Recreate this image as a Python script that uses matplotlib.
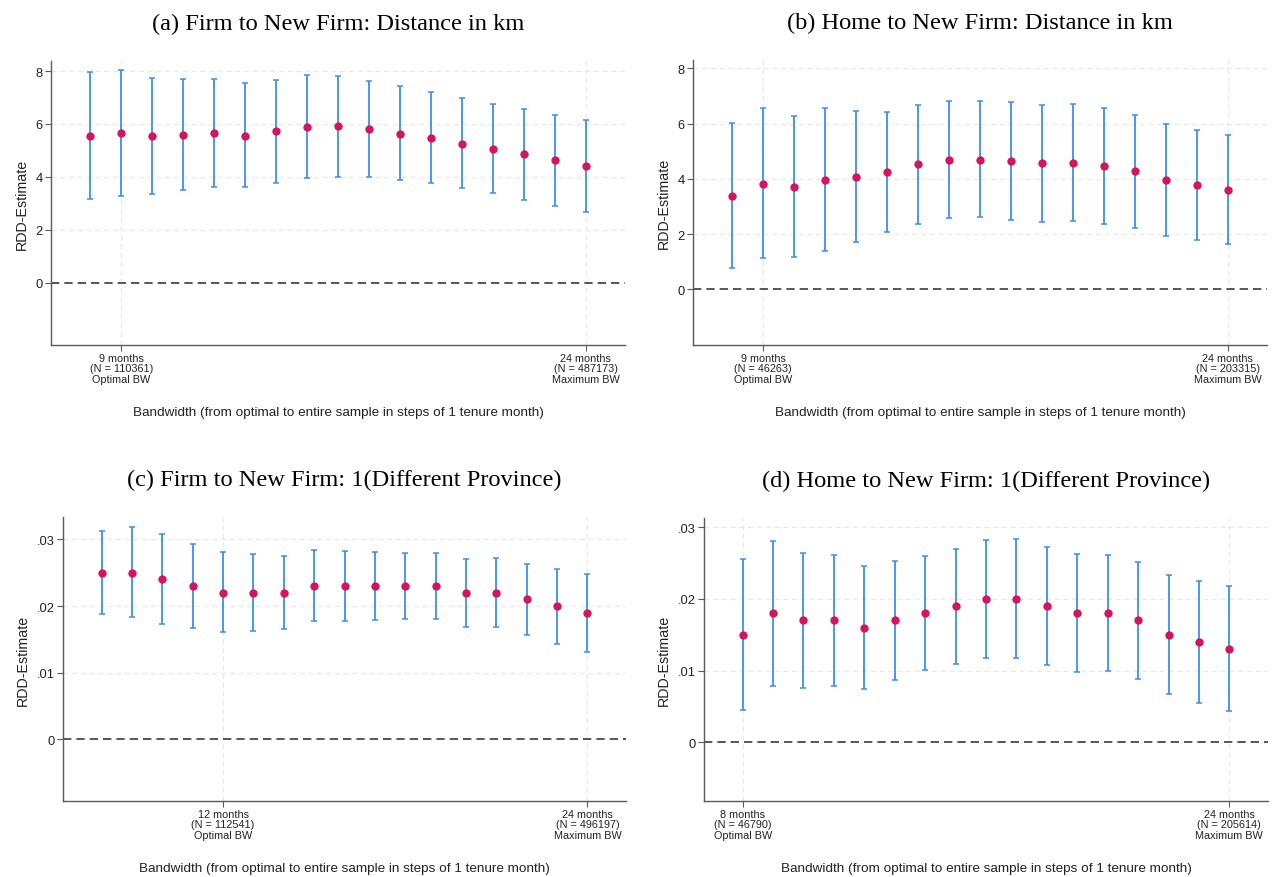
import matplotlib
matplotlib.use('Agg')
import matplotlib.pyplot as plt
import numpy as np
from matplotlib.ticker import FuncFormatter

plt.rcParams['font.family'] = 'Liberation Sans'

# --- data: bandwidth in tenure months ---
months = list(range(8, 25))

# (a) Firm to New Firm: distance in km
a_est = [5.55, 5.65, 5.55, 5.60, 5.65, 5.56, 5.73, 5.90, 5.91, 5.80, 5.63, 5.45, 5.26, 5.06, 4.85, 4.62, 4.40]
a_lo = [3.15, 3.26, 3.35, 3.49, 3.61, 3.62, 3.76, 3.97, 4.01, 3.98, 3.87, 3.75, 3.56, 3.37, 3.12, 2.91, 2.68]
a_hi = [7.96, 8.05, 7.75, 7.71, 7.70, 7.53, 7.68, 7.86, 7.80, 7.64, 7.42, 7.19, 6.97, 6.76, 6.55, 6.35, 6.13]

# (b) Home to New Firm: distance in km
b_est = [3.39, 3.83, 3.72, 3.96, 4.08, 4.24, 4.52, 4.69, 4.70, 4.64, 4.56, 4.58, 4.47, 4.27, 3.96, 3.77, 3.61]
b_lo = [0.79, 1.13, 1.18, 1.39, 1.72, 2.07, 2.36, 2.57, 2.61, 2.52, 2.44, 2.46, 2.38, 2.21, 1.95, 1.79, 1.66]
b_hi = [6.01, 6.56, 6.28, 6.55, 6.46, 6.42, 6.67, 6.81, 6.81, 6.78, 6.67, 6.72, 6.58, 6.30, 5.98, 5.76, 5.58]

# (c) Firm to New Firm: 1(Different Province)
c_est = [0.025, 0.025, 0.024, 0.023, 0.022, 0.022, 0.022, 0.023, 0.023, 0.023, 0.023, 0.023, 0.022, 0.022, 0.021, 0.020, 0.019]
c_lo = [0.01875, 0.0183, 0.0173, 0.01675, 0.01605, 0.0163, 0.01655, 0.0177, 0.01775, 0.01785, 0.0180, 0.01805, 0.0169, 0.0168, 0.01565, 0.01435, 0.01315]
c_hi = [0.03125, 0.0318, 0.0308, 0.0293, 0.02805, 0.0278, 0.02755, 0.02835, 0.0282, 0.0281, 0.0280, 0.02795, 0.02705, 0.02715, 0.02635, 0.0256, 0.02485]

# (d) Home to New Firm: 1(Different Province)
d_est = [0.015, 0.018, 0.017, 0.017, 0.016, 0.017, 0.018, 0.019, 0.020, 0.020, 0.019, 0.018, 0.018, 0.017, 0.015, 0.014, 0.013]
d_lo = [0.00449, 0.00792, 0.00755, 0.00792, 0.00741, 0.00875, 0.01005, 0.01093, 0.01181, 0.01176, 0.01079, 0.00981, 0.00991, 0.00889, 0.00676, 0.00551, 0.00431]
d_hi = [0.02556, 0.02815, 0.02648, 0.02611, 0.02458, 0.02523, 0.02597, 0.02704, 0.02829, 0.02833, 0.02731, 0.02625, 0.02616, 0.02514, 0.02333, 0.02255, 0.02176]

titles = ['(a) Firm to New Firm: Distance in km',
          '(b) Home to New Firm: Distance in km',
          '(c) Firm to New Firm: 1(Different Province)',
          '(d) Home to New Firm: 1(Different Province)']
tick_months = [[9, 24], [9, 24], [12, 24], [8, 24]]
tick_labels = [['9 months\n(N = 110361)\nOptimal BW', '24 months\n(N = 487173)\nMaximum BW'],
               ['9 months\n(N = 46263)\nOptimal BW', '24 months\n(N = 203315)\nMaximum BW'],
               ['12 months\n(N = 112541)\nOptimal BW', '24 months\n(N = 496197)\nMaximum BW'],
               ['8 months\n(N = 46790)\nOptimal BW', '24 months\n(N = 205614)\nMaximum BW']]
yticks = [[0, 2, 4, 6, 8], [0, 2, 4, 6, 8], [0, 0.01, 0.02, 0.03], [0, 0.01, 0.02, 0.03]]
ylims = [(-2.36, 8.38), (-2.01, 8.30), (-0.00924, 0.03336), (-0.0082, 0.0313)]
series = [(a_est, a_lo, a_hi), (b_est, b_lo, b_hi), (c_est, c_lo, c_hi), (d_est, d_lo, d_hi)]

W, H = 1273, 878
# axes boxes in pixels: left, top, right, bottom
boxes = [(51, 62, 625, 346), (693, 61, 1267, 346), (63, 518, 626, 802), (704, 519, 1268, 802)]

BLUE = '#3c8ef2'
RED = '#d7145a'
GRID = '#e9e9e9'
SPINE = '#5a5a5a'
TEXT = '#222222'


def small_fmt(v, p):
    if v == 0:
        return '0'
    if abs(v) < 1:
        return ('%.2f' % v).lstrip('0')
    return '%g' % v


fig = plt.figure(figsize=(W / 100, H / 100), dpi=100)

for i in range(4):
    l, t, r, b = boxes[i]
    ax = fig.add_axes([l / W, 1 - b / H, (r - l) / W, (b - t) / H])
    est, lo, hi = series[i]
    est = np.array(est)
    x = np.array(months)
    yerr = [est - np.array(lo), np.array(hi) - est]

    ax.axhline(0, color='#3a3a3a', lw=1.2, dashes=[5, 3], zorder=1)
    ax.errorbar(x, est, yerr=yerr, fmt='none', ecolor=BLUE, elinewidth=1.3,
                capsize=2.4, capthick=1.1, zorder=2)
    ax.plot(x, est, 'o', color=RED, ms=5.0, mec=RED, zorder=3)

    ax.set_xlim(8 - 1.27, 24 + 1.27)
    ax.set_ylim(*ylims[i])
    ax.set_yticks(yticks[i])
    ax.yaxis.set_major_formatter(FuncFormatter(small_fmt))
    ax.set_xticks(tick_months[i])
    ax.set_xticklabels(tick_labels[i], fontsize=7.8, linespacing=1.02, color=TEXT)

    # light dashed grid
    for yv in yticks[i][1:]:
        ax.axhline(yv, color=GRID, lw=0.9, dashes=[4, 3], zorder=0)
    for xv in tick_months[i]:
        ax.axvline(xv, color=GRID, lw=0.9, dashes=[4, 3], zorder=0)

    for s in ['top', 'right']:
        ax.spines[s].set_visible(False)
    for s in ['left', 'bottom']:
        ax.spines[s].set_color(SPINE)
        ax.spines[s].set_linewidth(1.0)
    ax.tick_params(axis='y', labelsize=9.3, colors=SPINE, labelcolor=TEXT, length=4, pad=2)
    ax.tick_params(axis='x', colors=SPINE, labelcolor=TEXT, length=4, pad=2)

    ax.set_ylabel('RDD-Estimate', fontsize=10.3, color=TEXT, labelpad=5)
    ax.set_xlabel('Bandwidth (from optimal to entire sample in steps of 1 tenure month)',
                  fontsize=9.7, color=TEXT, labelpad=16)
    ax.set_title(titles[i], family='Liberation Serif', fontsize=17.6, pad=23)

fig.savefig('out.png', dpi=100)
